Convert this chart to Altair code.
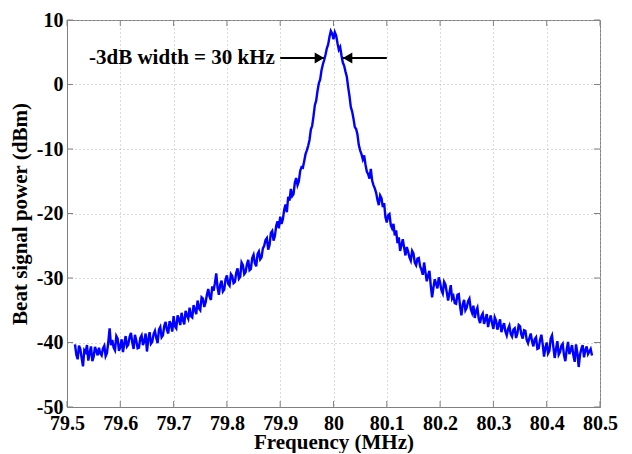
import altair as alt
import pandas as pd

# Measured beat-signal power (dBm), sampled every 0.0025 MHz from 79.515 MHz
freq_start = 79.515
freq_step = 0.0025
power_dbm = [
    -40.3, -41.9, -42.6, -40.5, -41.0, -42.4, -43.7, -41.2, -41.5, -40.4, -42.8, -41.6, -40.6, -42.9, -42.2, -40.7, -41.3, -42.0, -40.8, -41.7,
    -42.0, -40.9, -40.5, -42.1, -41.6, -39.9, -37.8, -40.4, -39.6, -40.8, -41.2, -39.0, -39.4, -41.3, -40.7, -39.5, -41.5, -40.2, -39.0, -40.6,
    -40.3, -39.1, -38.5, -40.0, -41.0, -38.8, -39.7, -40.9, -40.8, -39.3, -38.9, -40.4, -39.8, -38.6, -41.4, -39.5, -38.4, -40.2, -39.9, -38.7,
    -38.2, -39.3, -40.1, -38.0, -37.6, -39.2, -38.9, -37.4, -36.8, -38.1, -38.6, -36.7, -37.2, -38.3, -35.9, -37.5, -37.8, -35.8, -36.4, -37.3,
    -35.4, -36.5, -37.2, -35.1, -35.8, -36.3, -34.6, -35.9, -36.1, -34.2, -34.9, -35.6, -33.5, -34.7, -35.0, -33.0, -33.2, -34.5, -33.8, -32.6,
    -31.7, -32.9, -33.4, -31.3, -32.0, -30.8, -29.3, -31.5, -32.6, -31.0, -30.4, -32.1, -31.8, -30.2, -29.6, -30.9, -31.2, -29.4, -29.7, -30.8,
    -30.6, -29.2, -28.5, -30.1, -29.8, -27.6, -28.0, -29.4, -29.1, -27.9, -27.2, -28.8, -28.6, -26.9, -26.4, -27.7, -28.2, -26.3, -25.9, -27.1,
    -26.8, -25.4, -25.0, -24.1, -23.8, -25.6, -24.9, -23.0, -22.7, -24.2, -23.5, -21.9, -21.2, -22.3, -20.5, -21.6, -20.9, -19.4, -18.6, -19.8,
    -17.4, -18.0, -16.2, -17.3, -17.0, -15.2, -14.5, -15.6, -15.0, -13.4, -12.8, -12.9, -11.9, -10.8, -10.2, -9.5, -8.6, -7.0, -6.4, -4.9,
    -3.2, -2.5, -1.0, 0.2, 0.8, 2.2, 3.1, 3.8, 4.6, 5.6, 6.2, 7.4, 8.3, 7.9, 7.0, 8.1, 7.6, 6.4, 5.4, 5.8,
    4.5, 3.4, 2.9, 2.0, 1.2, -0.4, -1.8, -3.5, -4.2, -5.3, -6.6, -6.9, -7.8, -9.4, -10.2, -10.8, -11.6, -11.0, -12.4, -13.5,
    -13.9, -14.6, -13.1, -14.9, -15.6, -16.1, -16.8, -17.9, -18.7, -17.2, -17.6, -19.0, -18.4, -20.6, -21.4, -20.3, -20.1, -21.8, -22.3, -21.6,
    -23.4, -22.6, -24.6, -23.7, -25.8, -24.9, -24.0, -25.3, -26.5, -25.2, -25.9, -26.8, -27.3, -25.8, -26.2, -27.6, -28.0, -27.0, -26.9, -28.2,
    -28.7, -29.5, -27.6, -29.1, -30.5, -29.6, -28.9, -31.2, -33.0, -31.5, -30.2, -30.9, -31.6, -29.9, -30.7, -31.9, -32.4, -30.6, -31.0, -32.2,
    -33.5, -32.3, -31.1, -33.2, -32.8, -33.9, -34.0, -32.6, -32.5, -34.4, -35.8, -34.1, -33.4, -35.0, -34.6, -33.6, -33.2, -34.8, -35.4, -34.3,
    -36.2, -35.1, -34.6, -36.3, -37.0, -35.9, -35.5, -37.1, -36.4, -35.6, -37.6, -36.5, -35.8, -37.0, -37.9, -36.1, -36.6, -38.0, -37.2, -36.4,
    -38.4, -37.6, -37.0, -38.3, -38.9, -37.9, -37.4, -38.7, -39.1, -38.0, -37.8, -39.3, -38.6, -37.3, -37.5, -38.8, -39.4, -38.1, -38.2, -39.6,
    -40.1, -39.3, -38.6, -39.8, -40.6, -39.5, -39.2, -41.0, -40.9, -39.6, -38.8, -40.3, -42.2, -40.8, -40.0, -41.7, -41.3, -39.4, -38.9, -40.7,
    -42.4, -41.0, -39.8, -41.9, -41.5, -40.5, -40.2, -42.0, -42.9, -41.1, -39.9, -41.8, -41.2, -40.4, -42.0, -43.0, -40.3, -41.6, -43.8, -41.9,
    -41.0, -40.4, -42.3, -41.2, -40.6, -41.8, -41.4, -41.0, -42.0,
]
freq_mhz = [round(freq_start + i * freq_step, 4) for i in range(len(power_dbm))]

x_ticks = [79.5, 79.6, 79.7, 79.8, 79.9, 80.0, 80.1, 80.2, 80.3, 80.4, 80.5]
y_ticks = [10, 0, -10, -20, -30, -40, -50]
x_range = [79.5, 80.5]
y_range = [-50, 10]

# Annotation (-3 dB width arrows)
anno_text = "-3dB width = 30 kHz"
anno_y = 4.1
anno_text_x = 79.89
left_arrow = [79.90, 79.982]   # tail, tip
right_arrow = [80.10, 80.018]  # tail, tip

df = pd.DataFrame({"f": freq_mhz, "p": power_dbm})

FONT = "Liberation Serif"
FRAME = "#808080"

xscale = alt.Scale(domain=x_range, nice=False, zero=False)
yscale = alt.Scale(domain=y_range, nice=False, zero=False)

xaxis = alt.Axis(values=x_ticks, format=".1~f", title="Frequency (MHz)",
                 labelFlush=False, labelOverlap=False, labelPadding=6,
                 titlePadding=-2)
yaxis = alt.Axis(values=y_ticks, title="Beat signal power (dBm)",
                 labelExpr="datum.value < 0 ? '-' + abs(datum.value) : '' + datum.value",
                 labelFlush=False, labelOverlap=False, labelPadding=4,
                 titlePadding=6)

line = alt.Chart(df).mark_line(color="#0000ff", strokeWidth=2.4, clip=True).encode(
    x=alt.X("f:Q", scale=xscale, axis=xaxis),
    y=alt.Y("p:Q", scale=yscale, axis=yaxis),
)

# inward tick marks on all four sides (MATLAB style)
xt_df = pd.DataFrame({"x": x_ticks * 2,
                      "y": [y_range[0]] * len(x_ticks) + [y_range[1]] * len(x_ticks),
                      "side": ["b"] * len(x_ticks) + ["t"] * len(x_ticks)})
yt_df = pd.DataFrame({"y": y_ticks * 2,
                      "x": [x_range[0]] * len(y_ticks) + [x_range[1]] * len(y_ticks),
                      "side": ["l"] * len(y_ticks) + ["r"] * len(y_ticks)})
xt_bottom = alt.Chart(xt_df[xt_df.side == "b"]).mark_tick(
    orient="vertical", size=6, thickness=1, color=FRAME, yOffset=-3, opacity=1
).encode(x=alt.X("x:Q", scale=xscale), y=alt.Y("y:Q", scale=yscale))
xt_top = alt.Chart(xt_df[xt_df.side == "t"]).mark_tick(
    orient="vertical", size=6, thickness=1, color=FRAME, yOffset=3, opacity=1
).encode(x=alt.X("x:Q", scale=xscale), y=alt.Y("y:Q", scale=yscale))
yt_left = alt.Chart(yt_df[yt_df.side == "l"]).mark_tick(
    orient="horizontal", size=6, thickness=1, color=FRAME, xOffset=3, opacity=1
).encode(x=alt.X("x:Q", scale=xscale), y=alt.Y("y:Q", scale=yscale))
yt_right = alt.Chart(yt_df[yt_df.side == "r"]).mark_tick(
    orient="horizontal", size=6, thickness=1, color=FRAME, xOffset=-3, opacity=1
).encode(x=alt.X("x:Q", scale=xscale), y=alt.Y("y:Q", scale=yscale))

arrows_df = pd.DataFrame({
    "x1": [left_arrow[0], right_arrow[0]],
    "x2": [left_arrow[1], right_arrow[1]],
    "y": [anno_y, anno_y],
})
rules = alt.Chart(arrows_df).mark_rule(color="black", strokeWidth=2).encode(
    x=alt.X("x1:Q", scale=xscale),
    x2="x2:Q",
    y=alt.Y("y:Q", scale=yscale),
)

head_r = alt.Chart(pd.DataFrame({"x": [left_arrow[1]], "y": [anno_y]})).mark_point(
    shape="triangle-right", filled=True, color="black", size=120, opacity=1, xOffset=-4.5
).encode(x=alt.X("x:Q", scale=xscale), y=alt.Y("y:Q", scale=yscale))

head_l = alt.Chart(pd.DataFrame({"x": [right_arrow[1]], "y": [anno_y]})).mark_point(
    shape="triangle-left", filled=True, color="black", size=120, opacity=1, xOffset=4.5
).encode(x=alt.X("x:Q", scale=xscale), y=alt.Y("y:Q", scale=yscale))

label = alt.Chart(pd.DataFrame({"x": [anno_text_x], "y": [anno_y], "t": [anno_text]})).mark_text(
    align="right", baseline="middle", font=FONT, fontSize=21, fontWeight="bold", color="black"
).encode(x=alt.X("x:Q", scale=xscale), y=alt.Y("y:Q", scale=yscale), text="t:N")

chart = alt.layer(line, xt_bottom, xt_top, yt_left, yt_right, rules, head_r, head_l, label).properties(
    width=533, height=387,
    autosize=alt.AutoSizeParams(type="none"),
    padding={"left": 59, "top": 12, "right": 24, "bottom": 46},
).configure_view(
    stroke=FRAME, strokeWidth=1
).configure_axis(
    labelFont=FONT, labelFontSize=20, labelFontWeight="bold", labelColor="black",
    titleFont=FONT, titleFontSize=21, titleFontWeight="bold", titleColor="black",
    domainColor=FRAME, domainWidth=1,
    ticks=False,
    grid=True, gridColor="#b4b4b4", gridDash=[1, 3], gridWidth=1,
)

chart.save("out.html", embed_options={"renderer": "svg", "actions": False})
